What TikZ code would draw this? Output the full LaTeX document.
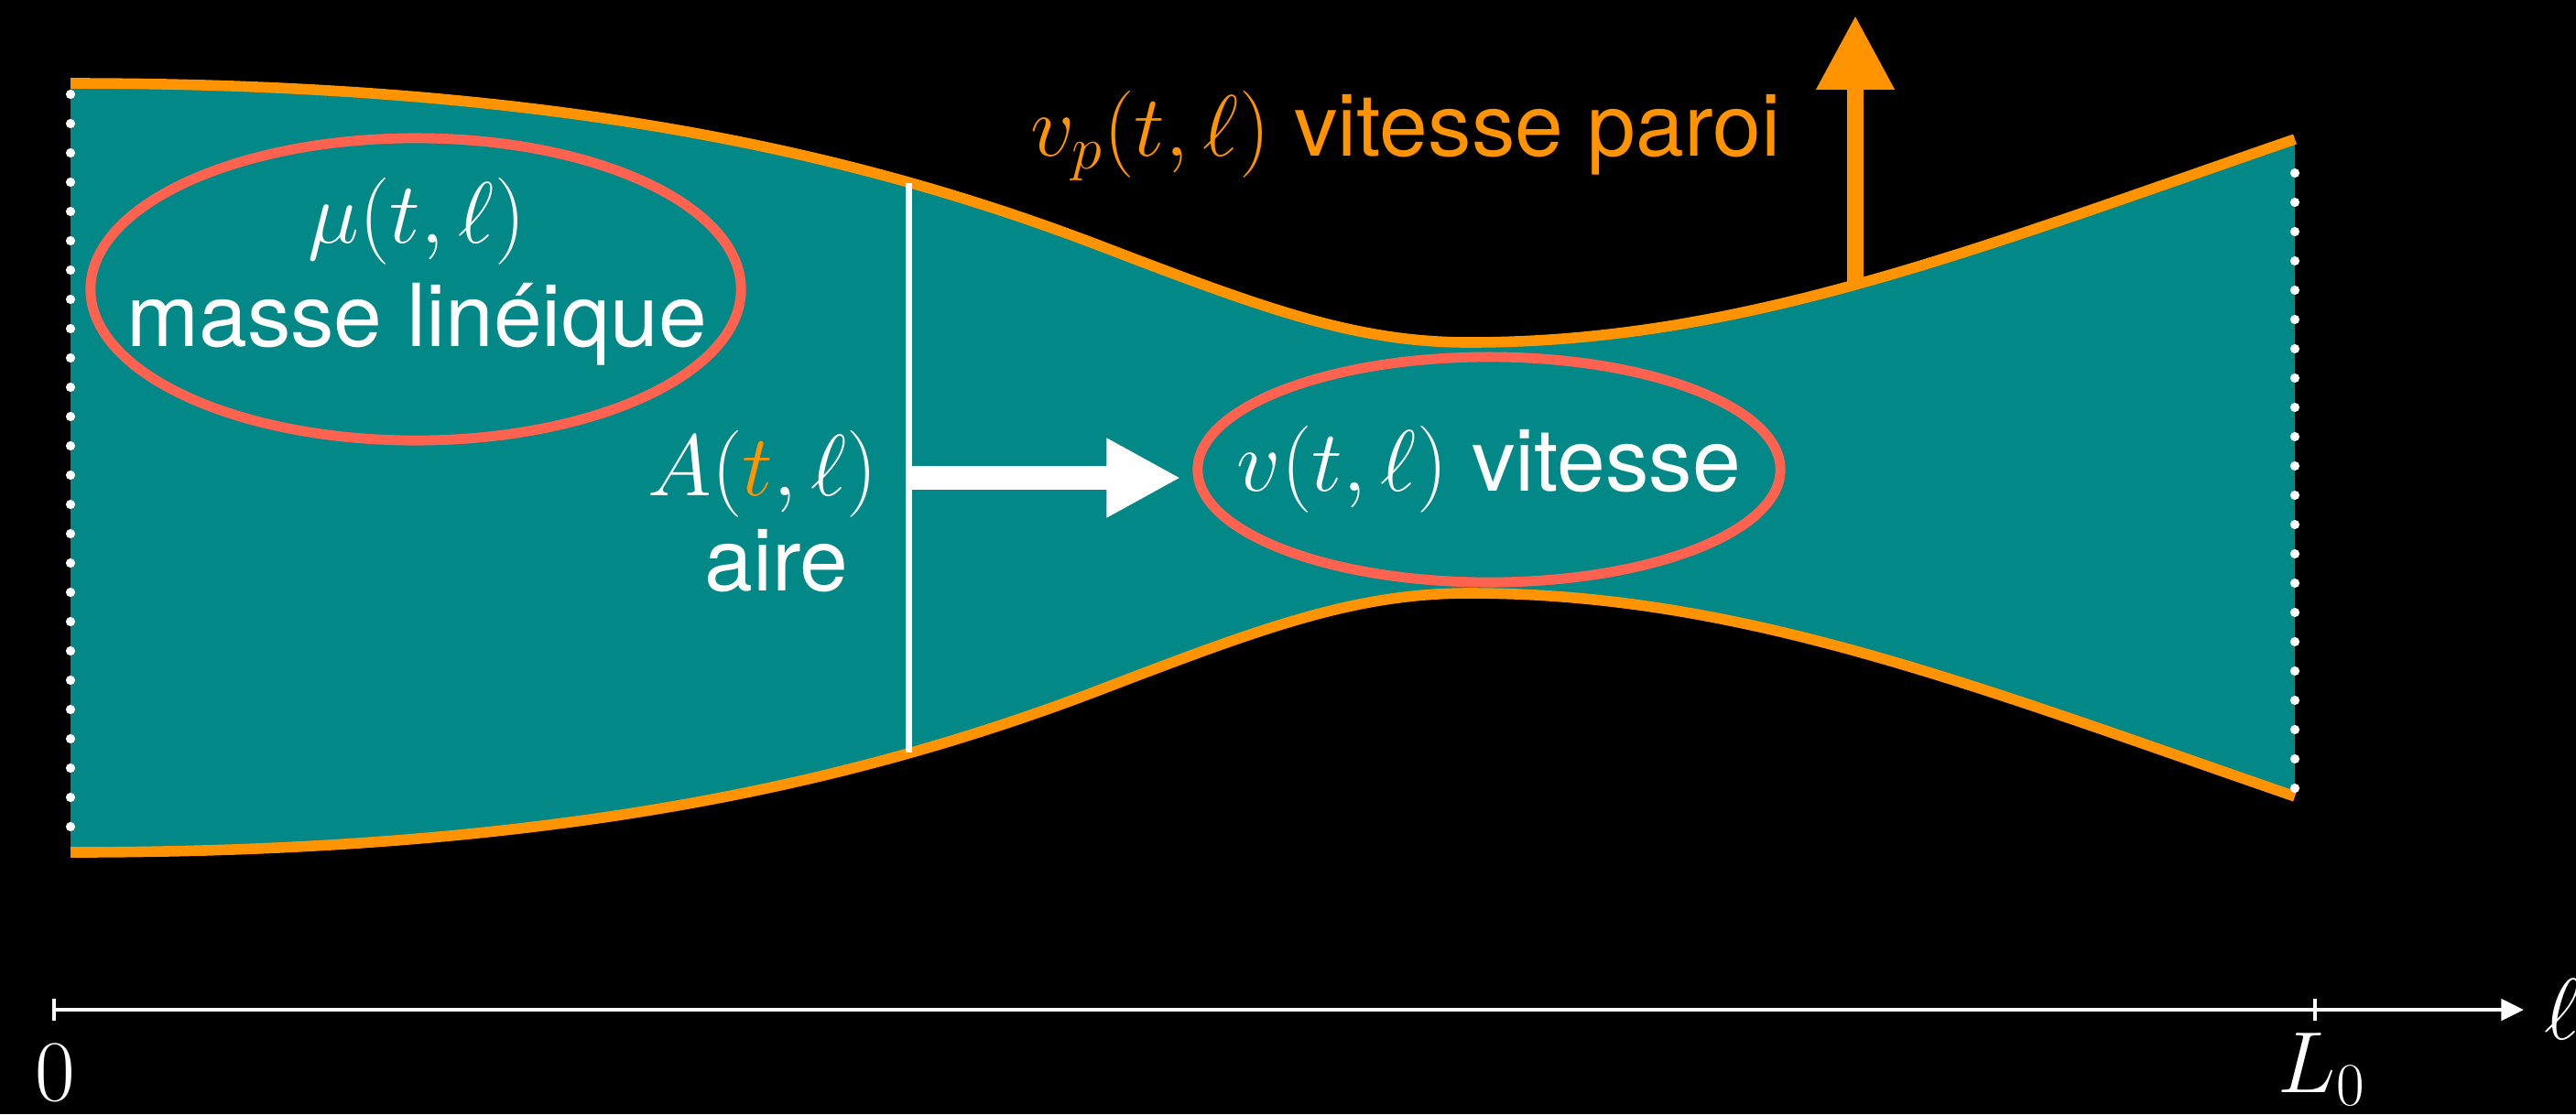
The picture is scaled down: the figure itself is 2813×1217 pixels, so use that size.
\RequirePackage{fix-cm}
\documentclass[tikz,border=0pt]{standalone}
\usepackage{fontspec}
\setmainfont{TeX Gyre Heros}
\usepackage{tikz}
\usetikzlibrary{arrows.meta, shapes.geometric, positioning}
\definecolor{tube}{RGB}{2,136,135}
\definecolor{paroi}{RGB}{255,147,0}
\definecolor{bulle}{RGB}{255,99,80}

\begin{document}
\begin{tikzpicture}[x=0.01cm, y=-0.01cm,
        wall/.style={paroi, line width=3.3pt},
        bubble/.style={ellipse, draw=bulle, line width=3.1pt, inner sep=0pt},
        lbl/.style={text=white, inner sep=0pt, font=\fontsize{27}{32}\selectfont},
        bigarrow/.style={line width=7.2pt, -{Triangle[length=23pt, width=23pt]}}]
        \useasboundingbox (0,0) rectangle (2813,1217);
        \fill[black] (0,0) rectangle (2813,1217);
        % the tube
        \fill[tube] (77,91) .. controls (600,91) and (930,165) .. (1200,268)
            .. controls (1380,337) and (1480,374) .. (1604,374)
            .. controls (1900,374) and (2150,275) .. (2506,152)
            -- (2506,870) .. controls (2150,747) and (1900,648) .. (1604,648)
            .. controls (1480,648) and (1380,685) .. (1200,754)
            .. controls (930,857) and (600,931) .. (77,931) -- cycle;
        \draw[wall] (77,91) .. controls (600,91) and (930,165) .. (1200,268)
            .. controls (1380,337) and (1480,374) .. (1604,374)
            .. controls (1900,374) and (2150,275) .. (2506,152);
        \draw[wall] (77,931) .. controls (600,931) and (930,857) .. (1200,754)
            .. controls (1380,685) and (1480,648) .. (1604,648)
            .. controls (1900,648) and (2150,747) .. (2506,870);
        % open ends
        \foreach \y in {103,135,...,903} \fill[white] (77,\y) circle (1.45pt);
        \foreach \y in {189,221,...,861} \fill[white] (2506,\y) circle (1.45pt);
        % cross section
        \coordinate (secTop) at (992,200);
        \coordinate (secBot) at (992,822);
        \coordinate (sec) at (992,522);
        \draw[white, line width=2pt] (secTop) -- (secBot);
        \node[lbl, anchor=base] (alab) at (833,541) {$A({\color{paroi}t},\ell)$};
        \node[lbl, anchor=base] (aire) at (848,645) {aire};
        % fluid
        \node[bubble, minimum width=7.1cm, minimum height=3.3cm] (mu) at (454,316) {};
        \node[lbl, anchor=base] (mulab) at (455,265) {$\mu(t,\ell)$};
        \node[lbl, anchor=base] (masse) at (455,378) {masse linéique};
        \node[bubble, minimum width=6.36cm, minimum height=2.46cm] (vit) at (1626,513) {};
        \node[lbl, anchor=base] (vitlab) at (1626,536) {$v(t,\ell)$ vitesse};
        \draw[white, bigarrow] (sec) -- ([xshift=-0.13cm]sec -| vit.west);
        % wall velocity
        \coordinate (wallpt) at (2026,313);
        \coordinate (vtip) at (2026,17);
        \draw[paroi, line width=5pt, -{Triangle[length=23pt, width=23pt]}] (wallpt) -- (vtip);
        \node[lbl, text=paroi, anchor=base] (vplab) at (1535,170) {$v_p(t,\ell)$ vitesse paroi};
        % axis
        \coordinate (o) at (59,1103);
        \coordinate (lz) at (2528,1103);
        \coordinate (axend) at (2756,1103);
        \draw[white, line width=1.4pt, -{Triangle[length=7pt, width=6.5pt]}] (o) -- (axend);
        \draw[white, line width=0.9pt] (o) ++(0,-12) -- ++(0,24) (lz) ++(0,-12) -- ++(0,24);
        \node[lbl, anchor=base] (zero) at (60,1202) {$0$};
        \node[lbl, anchor=base west] (L0) at (2487,1193) {$L_0$};
        \node[lbl, anchor=base west] (ell) at (2778,1135) {$\ell$};
\end{tikzpicture}
\end{document}
